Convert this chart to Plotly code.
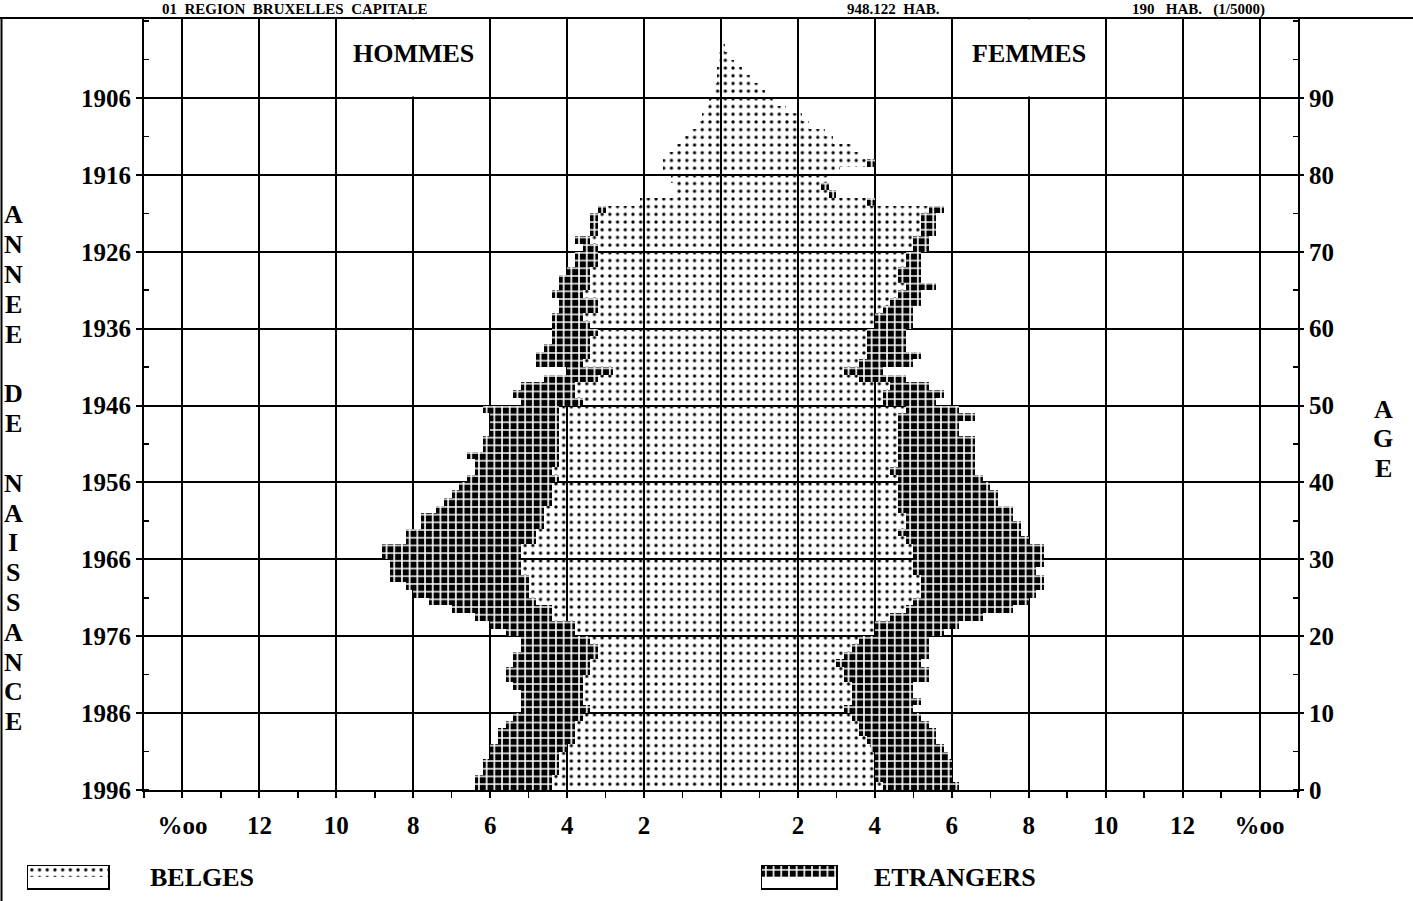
import numpy as np
import plotly.graph_objects as go

W, H = 1413, 901

# ---------------- data (per mille of total population, by single year of age) ----------
ages = list(range(0, 97))

men_belges = [
    4.4, 4.4, 4.2, 4.2, 4.2, 4.0, 3.8, 3.8, 3.8, 3.6,
    3.4, 3.6, 3.6, 3.6, 3.6, 3.4, 3.4, 3.2, 3.2, 3.4,
    3.8, 3.8, 4.4, 4.4, 4.8, 5.0, 5.0, 5.0, 5.2, 5.2,
    5.2, 5.2, 4.8, 4.8, 4.6, 4.6, 4.6, 4.4, 4.4, 4.4,
    4.2, 4.4, 4.2, 4.2, 4.2, 4.2, 4.2, 4.2, 4.2, 4.2,
    3.6, 3.8, 3.8, 3.2, 2.8, 3.6, 3.4, 3.4, 3.4, 3.2,
    3.4, 3.6, 3.2, 3.2, 3.6, 3.4, 3.4, 3.4, 3.2, 3.2,
    3.2, 3.4, 3.2, 3.2, 3.2, 3.0, 2.1, 1.2, 1.2, 1.3,
    1.5, 1.5, 1.4, 1.2, 1.0, 0.8, 0.6, 0.5, 0.4, 0.3,
    0.2, 0.2, 0.1, 0.1, 0.05, 0.05, 0.0,
]
men_total = [
    6.4, 6.4, 6.2, 6.2, 6.0, 6.0, 5.8, 5.8, 5.6, 5.4,
    5.2, 5.2, 5.2, 5.4, 5.6, 5.6, 5.4, 5.4, 5.2, 5.2,
    5.6, 6.0, 6.4, 7.0, 7.6, 8.0, 8.2, 8.6, 8.6, 8.6,
    8.8, 8.8, 8.2, 8.2, 7.8, 7.8, 7.4, 7.2, 7.0, 6.8,
    6.6, 6.4, 6.4, 6.6, 6.2, 6.2, 6.0, 6.0, 6.0, 6.2,
    5.2, 5.4, 5.2, 4.6, 4.0, 4.8, 4.8, 4.6, 4.4, 4.4,
    4.4, 4.4, 4.2, 4.2, 4.4, 4.2, 4.2, 4.0, 3.8, 3.8,
    3.6, 3.8, 3.4, 3.4, 3.4, 3.2, 2.1, 1.2, 1.2, 1.3,
    1.5, 1.5, 1.4, 1.2, 1.0, 0.8, 0.6, 0.5, 0.4, 0.3,
    0.2, 0.2, 0.1, 0.1, 0.05, 0.05, 0.0,
]
women_belges = [
    4.2, 4.0, 4.0, 4.0, 4.0, 3.9, 3.8, 3.6, 3.6, 3.4,
    3.2, 3.4, 3.4, 3.4, 3.2, 3.2, 3.0, 3.2, 3.4, 3.6,
    4.0, 4.0, 4.4, 4.8, 5.0, 5.2, 5.2, 5.2, 5.0, 5.0,
    5.0, 5.0, 4.8, 4.6, 4.8, 4.8, 4.6, 4.6, 4.6, 4.6,
    4.6, 4.4, 4.6, 4.6, 4.6, 4.6, 4.6, 4.6, 4.6, 4.8,
    4.2, 4.2, 4.4, 3.6, 3.2, 3.6, 3.8, 3.8, 3.8, 3.8,
    4.0, 4.0, 4.2, 4.4, 4.6, 4.8, 4.6, 4.6, 4.8, 4.8,
    5.0, 5.0, 5.2, 5.2, 5.2, 5.4, 3.8, 2.8, 2.6, 2.8,
    3.1, 3.8, 3.6, 3.4, 2.9, 2.7, 2.3, 2.1, 1.7, 1.35,
    1.15, 1.0, 0.75, 0.55, 0.35, 0.2, 0.1,
]
women_total = [
    6.2, 6.0, 6.0, 6.0, 5.9, 5.8, 5.6, 5.6, 5.4, 5.2,
    5.0, 5.2, 5.0, 5.0, 5.4, 5.4, 5.2, 5.4, 5.4, 5.4,
    5.8, 6.2, 6.8, 7.6, 8.0, 8.2, 8.4, 8.4, 8.2, 8.4,
    8.4, 8.4, 8.0, 7.8, 7.8, 7.6, 7.6, 7.2, 7.2, 7.0,
    6.8, 6.6, 6.6, 6.6, 6.6, 6.6, 6.2, 6.2, 6.6, 6.2,
    5.6, 5.8, 5.4, 4.8, 4.2, 5.0, 5.2, 4.8, 4.8, 4.8,
    5.0, 5.0, 5.0, 5.2, 5.2, 5.6, 5.2, 5.2, 5.2, 5.2,
    5.4, 5.4, 5.6, 5.6, 5.6, 5.8, 4.0, 3.0, 2.8, 2.8,
    3.1, 4.0, 3.6, 3.4, 2.9, 2.7, 2.3, 2.1, 1.7, 1.35,
    1.15, 1.0, 0.75, 0.55, 0.35, 0.2, 0.1,
]

age_ticks = [0, 10, 20, 30, 40, 50, 60, 70, 80, 90]
birth_year_labels = ["1996", "1986", "1976", "1966", "1956", "1946", "1936", "1926", "1916", "1906"]
age_labels = ["0", "10", "20", "30", "40", "50", "60", "70", "80", "90"]
permille_ticks = [-14, -12, -10, -8, -6, -4, -2, 0, 2, 4, 6, 8, 10, 12, 14]
permille_labels = ["%oo", "12", "10", "8", "6", "4", "2", "", "2", "4", "6", "8", "10", "12", "%oo"]
legend_labels = ["BELGES", "ETRANGERS"]
title_parts = ["01  REGION  BRUXELLES  CAPITALE", "948.122  HAB.", "190   HAB.   (1/5000)"]
sex_labels = ["HOMMES", "FEMMES"]

# ---------------- styling ----------
FONT = "Liberation Serif"
Y_TOP = 100.4
CELL = 7.7
belges_marker = dict(color="black", line=dict(width=0),
                     pattern=dict(shape=".", fgcolor="black", bgcolor="rgba(0,0,0,0)",
                                  size=CELL, solidity=0.15, fillmode="replace"))
etr_marker = dict(color="black", line=dict(width=0),
                  pattern=dict(shape="+", fgcolor="white", bgcolor="black",
                               size=CELL, solidity=0.38, fillmode="replace"))

mb = np.array(men_belges)
me = np.array(men_total) - mb
wb = np.array(women_belges)
we = np.array(women_total) - wb

fig = go.Figure()
common = dict(orientation="h", width=1, offset=0, hoverinfo="skip", showlegend=False)
fig.add_trace(go.Bar(y=ages, x=-mb, marker=belges_marker, xaxis="x", yaxis="y", **common))
fig.add_trace(go.Bar(y=ages, x=-me, marker=etr_marker, xaxis="x", yaxis="y", **common))
fig.add_trace(go.Bar(y=ages, x=wb, marker=belges_marker, xaxis="x", yaxis="y2", **common))
fig.add_trace(go.Bar(y=ages, x=we, marker=etr_marker, xaxis="x", yaxis="y2", **common))

# legend swatches (separate tiny subplots)
fig.add_trace(go.Bar(y=[0], x=[1], marker=belges_marker, xaxis="x3", yaxis="y3", **common))
fig.add_trace(go.Bar(y=[0], x=[1], marker=etr_marker, xaxis="x4", yaxis="y4", **common))


def px_x(p):
    return p / W


def px_y(p):
    return (H - p) / H


tickfont = dict(family=FONT, size=25, color="black", weight="bold")
axis_common = dict(showline=True, linecolor="black", linewidth=2, zeroline=False,
                   tickcolor="black", tickwidth=2, automargin=False, fixedrange=True)

fig.update_layout(
    width=W, height=H, template="none",
    margin=dict(l=0, r=0, t=0, b=0),
    paper_bgcolor="white", plot_bgcolor="rgba(0,0,0,0)",
    barmode="relative", bargap=0, showlegend=False,
    font=dict(family=FONT, size=26, color="black"),
    xaxis=dict(domain=[px_x(144), px_x(1298)], range=[-15, 15],
               tickmode="array", tickvals=permille_ticks, ticktext=permille_labels,
               ticks="outside", ticklen=6, tickfont=tickfont, ticklabelstandoff=6,
               showgrid=True, gridcolor="black", gridwidth=2,
               minor=dict(dtick=1, ticks="outside", ticklen=6, tickwidth=1.5,
                          tickcolor="black", showgrid=False),
               anchor="y", **axis_common),
    yaxis=dict(domain=[px_y(790), px_y(18)], range=[0, Y_TOP],
               tickmode="array", tickvals=age_ticks, ticktext=birth_year_labels,
               ticks="outside", ticklen=6, tickfont=tickfont,
               showgrid=True, gridcolor="black", gridwidth=2,
               minor=dict(dtick=5, ticks="inside", ticklen=5, tickwidth=1.5,
                          tickcolor="black", showgrid=False),
               anchor="x", **axis_common),
    yaxis2=dict(overlaying="y", side="right", range=[0, Y_TOP], anchor="x",
                tickmode="array", tickvals=age_ticks, ticktext=age_labels,
                ticks="outside", ticklen=4, tickfont=tickfont, showgrid=False,
                minor=dict(dtick=5, ticks="inside", ticklen=5, tickwidth=1.5,
                           tickcolor="black", showgrid=False),
                **axis_common),
)

swatch_axes = dict(showline=True, mirror=True, linecolor="black", linewidth=1.5,
                   showticklabels=False, ticks="", showgrid=False, zeroline=False,
                   automargin=False, fixedrange=True)
fig.update_layout(
    xaxis3=dict(domain=[px_x(28), px_x(108)], range=[0, 1], anchor="y3", **swatch_axes),
    yaxis3=dict(domain=[px_y(888), px_y(866)], range=[-0.5, 0.5], anchor="x3", **swatch_axes),
    xaxis4=dict(domain=[px_x(762), px_x(836)], range=[0, 1], anchor="y4", **swatch_axes),
    yaxis4=dict(domain=[px_y(888), px_y(866)], range=[-0.5, 0.5], anchor="x4", **swatch_axes),
)

bold = dict(family=FONT, size=26, color="black", weight="bold")
ann = []
# sex labels in the top band
for lab, xc in zip(sex_labels, [-8, 8]):
    ann.append(dict(text=lab, x=xc, y=px_y(53), xref="x", yref="paper",
                    yanchor="middle", showarrow=False, font=bold))
# legend labels
for lab, xp in zip(legend_labels, [148, 872]):
    ann.append(dict(text=lab, x=px_x(xp), y=px_y(877), xref="paper", yref="paper",
                    xanchor="left", yanchor="middle", showarrow=False, font=bold))
# header line at the very top (small so it stays inside the sheet)
head = dict(family=FONT, size=15, color="black", weight="bold")
for lab, xp in zip(title_parts, [160, 845, 1130]):
    ann.append(dict(text=lab, x=px_x(xp), y=px_y(9), xref="paper", yref="paper",
                    xanchor="left", yanchor="middle", showarrow=False, font=head))
# vertical axis titles, one letter per row
pitch = 29.8
for i, ch in enumerate("ANNEE DE NAISSANCE"):
    if ch != " ":
        ann.append(dict(text=ch, x=px_x(13), y=px_y(215 + i * pitch), xref="paper", yref="paper",
                        xanchor="center", yanchor="middle", showarrow=False, font=bold))
for i, ch in enumerate("AGE"):
    ann.append(dict(text=ch, x=px_x(1383), y=px_y(409 + i * pitch), xref="paper", yref="paper",
                    xanchor="center", yanchor="middle", showarrow=False, font=bold))
fig.update_layout(annotations=ann)

# page frame (top and left border of the sheet) + white boxes behind the sex labels
shapes = [
    dict(type="line", xref="paper", yref="paper", x0=0, x1=1, y0=px_y(18), y1=px_y(18),
         line=dict(color="black", width=2)),
    dict(type="line", xref="paper", yref="paper", x0=px_x(1.5), x1=px_x(1.5), y0=0, y1=px_y(18),
         line=dict(color="black", width=2)),
]
for xc in [-8, 8]:
    shapes.append(dict(type="rect", xref="x", yref="y", x0=xc - 1.9, x1=xc + 1.9,
                       y0=90.2, y1=Y_TOP - 0.15, fillcolor="white", line=dict(width=0),
                       layer="above"))
fig.update_layout(shapes=shapes)

fig.write_html("out.html", config={"displayModeBar": False, "staticPlot": True},
               post_script="document.body.style.margin='0';document.body.style.overflow='hidden';")
